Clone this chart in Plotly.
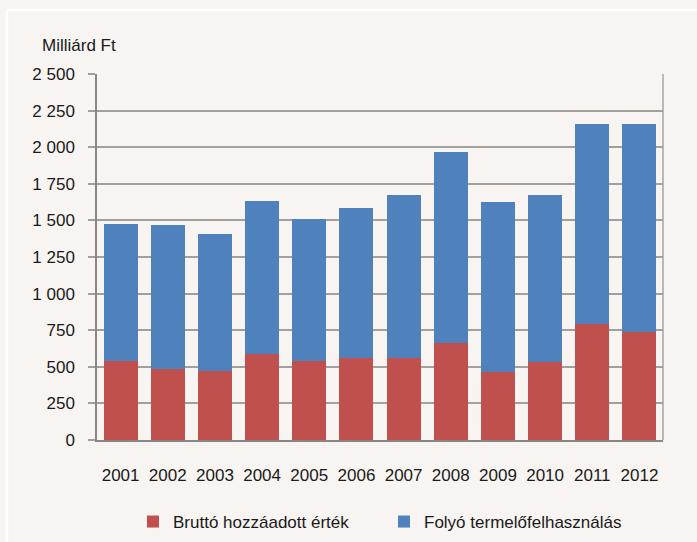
import plotly.graph_objects as go

years = ["2001", "2002", "2003", "2004", "2005", "2006", "2007", "2008", "2009", "2010", "2011", "2012"]
brutto = [542, 485, 471, 590, 540, 562, 562, 663, 467, 535, 795, 740]
total = [1475, 1469, 1407, 1633, 1510, 1585, 1673, 1967, 1626, 1673, 2158, 2158]
folyo = [t - b for t, b in zip(total, brutto)]
y_ticks = [0, 250, 500, 750, 1000, 1250, 1500, 1750, 2000, 2250, 2500]

W, H = 697, 542
L, R, T, B = 97, 663, 74, 440
pw, ph = R - L, B - T

def px(x):
    return (x - L) / pw

def py(y):
    return (B - y) / ph

FONT = "Liberation Sans Narrow, Arial Narrow, Liberation Sans, Arial, sans-serif"
BG = "#F7F4F1"

fig = go.Figure()
fig.add_trace(go.Bar(x=years, y=brutto, name="Bruttó hozzáadott érték", legend="legend",
                     marker=dict(color="#C0504D", line=dict(width=0))))
fig.add_trace(go.Bar(x=years, y=folyo, name="Folyó termelőfelhasználás", legend="legend2",
                     marker=dict(color="#4F81BD", line=dict(width=0))))

leg_common = dict(orientation="h", xanchor="left", yanchor="middle",
                  bgcolor="rgba(0,0,0,0)", font=dict(size=17, color="#1a1a1a"),
                  itemwidth=30, borderwidth=0)

fig.update_layout(
    width=W, height=H,
    barmode="stack", bargap=0.28,
    paper_bgcolor=BG, plot_bgcolor=BG,
    separators=", ",
    font=dict(family=FONT, size=17, color="#1a1a1a"),
    margin=dict(l=L, r=W - R, t=T, b=H - B, pad=0, autoexpand=False),
    showlegend=True,
    legend=dict(x=px(133), y=py(522), **leg_common),
    legend2=dict(x=px(384), y=py(522), **leg_common),
    xaxis=dict(showgrid=False, showline=True, linecolor="#868686", linewidth=1.5,
               ticks="", ticklabelstandoff=19, automargin=False,
               tickfont=dict(size=17)),
    yaxis=dict(range=[0, 2500], tickvals=y_ticks, tickformat=",d", automargin=False,
               showgrid=True, gridcolor="#A0A0A0", gridwidth=1.5,
               showline=True, linecolor="#868686", linewidth=1.5,
               ticks="outside", ticklen=7, tickcolor="#A0A0A0", tickwidth=1.5,
               ticklabelstandoff=10, zeroline=False, tickfont=dict(size=17)),
    annotations=[dict(text="Milliárd Ft", xref="paper", yref="paper", x=px(40), y=py(46),
                      xanchor="left", yanchor="middle", showarrow=False, font=dict(size=17))],
    shapes=[
        dict(type="rect", xref="paper", yref="paper", x0=px(7), x1=px(720), y0=py(10), y1=py(560),
             line=dict(color="white", width=2.5), fillcolor="rgba(0,0,0,0)", layer="below"),
        dict(type="line", xref="paper", yref="paper", x0=1, x1=1, y0=0, y1=1,
             line=dict(color="#A6A6A6", width=1.5)),
    ],
)

fig.write_html("out.html", config={"displayModeBar": False},
               post_script="document.body.style.margin='0';document.body.style.background='#F7F4F1';")
